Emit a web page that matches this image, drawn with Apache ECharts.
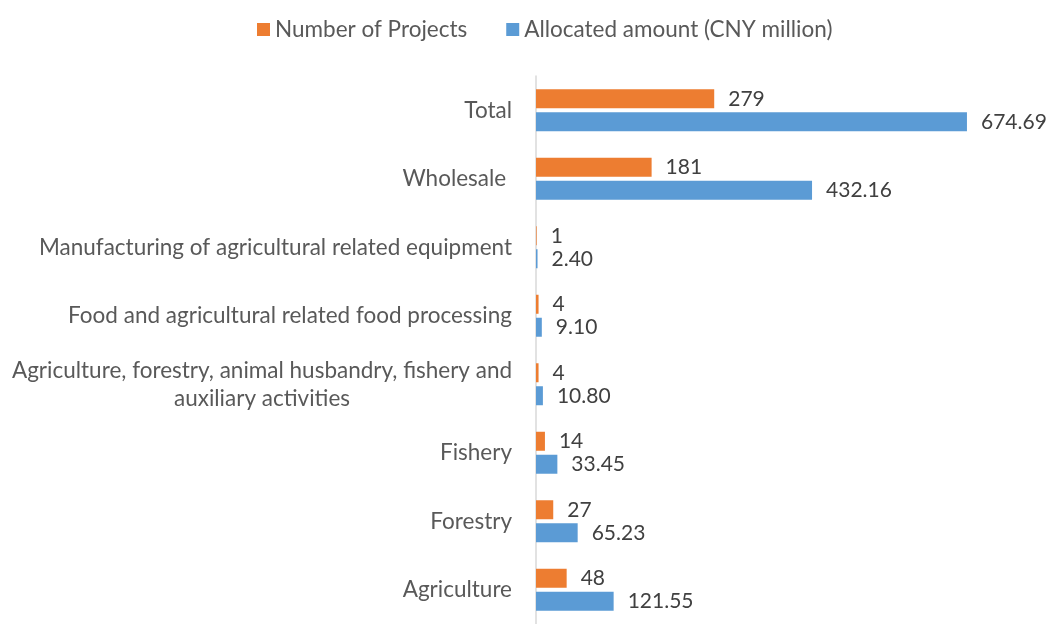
<!DOCTYPE html>
<html>
<head>
<meta charset="utf-8">
<script src="https://cdn.jsdelivr.net/npm/echarts@6/dist/echarts.min.js"></script>
<style>
  html, body { margin: 0; padding: 0; background: #fff; }
  #chart { width: 1054px; height: 624px; }
</style>
</head>
<body>
<div id="chart"></div>
<script>
// 类别（从上到下）
const categories = [
  'Total',
  'Wholesale ',
  'Manufacturing of agricultural related equipment',
  'Food and agricultural related food processing',
  'Agriculture, forestry, animal husbandry, fishery and auxiliary activities',
  'Fishery',
  'Forestry',
  'Agriculture'
]
const projectCounts = [279, 181, 1, 4, 4, 14, 27, 48]
const allocatedAmounts = [674.69, 432.16, 2.40, 9.10, 10.80, 33.45, 65.23, 121.55]
const seriesNames = ['Number of Projects', 'Allocated amount (CNY million)']

const chart = echarts.init(document.getElementById('chart'))

const fontFamily = 'Lato, "Open Sans", sans-serif'

const valueLabel = {
  show: true,
  position: 'right',
  distance: 14,
  color: '#404040',
  fontSize: 21,
  fontFamily
}

const option = {
  animation: false,
  textStyle: { fontFamily },
  legend: {
    data: seriesNames,
    top: 13,
    left: 252,
    itemWidth: 13,
    itemHeight: 13,
    itemGap: 39,
    icon: 'rect',
    textStyle: { color: '#595959', fontSize: 22.5, fontFamily }
  },
  grid: {
    left: 536,
    top: 76,
    width: 511,
    height: 557
  },
  xAxis: {
    type: 'value',
    min: 0,
    max: 800,
    show: false
  },
  yAxis: {
    type: 'category',
    data: categories,
    inverse: true,
    axisTick: { show: false },
    axisLine: { lineStyle: { color: '#d9d9d9', width: 1.5 } },
    axisLabel: {
      margin: 24,
      color: '#595959',
      fontSize: 22.5,
      fontFamily,
      formatter: function (name) {
        if (name.indexOf('auxiliary') !== -1) {
          return '{c|Agriculture, forestry, animal husbandry, fishery and}\n{c|auxiliary activities}'
        }
        return name
      },
      rich: {
        c: {
          width: 500,
          align: 'center',
          color: '#595959',
          fontSize: 22.5,
          fontFamily,
          lineHeight: 28
        }
      }
    }
  },
  series: [
    {
      name: seriesNames[0],
      type: 'bar',
      data: projectCounts,
      barWidth: 19,
      barGap: '21%',
      itemStyle: { color: '#ED7D31' },
      label: valueLabel
    },
    {
      name: seriesNames[1],
      type: 'bar',
      data: allocatedAmounts,
      barWidth: 19,
      barGap: '21%',
      itemStyle: { color: '#5B9BD5' },
      label: Object.assign({}, valueLabel, {
        formatter: p => p.value.toFixed(2)
      })
    }
  ]
}

chart.setOption(option)

window.addEventListener('resize', () => chart.resize())
</script>
</body>
</html>
